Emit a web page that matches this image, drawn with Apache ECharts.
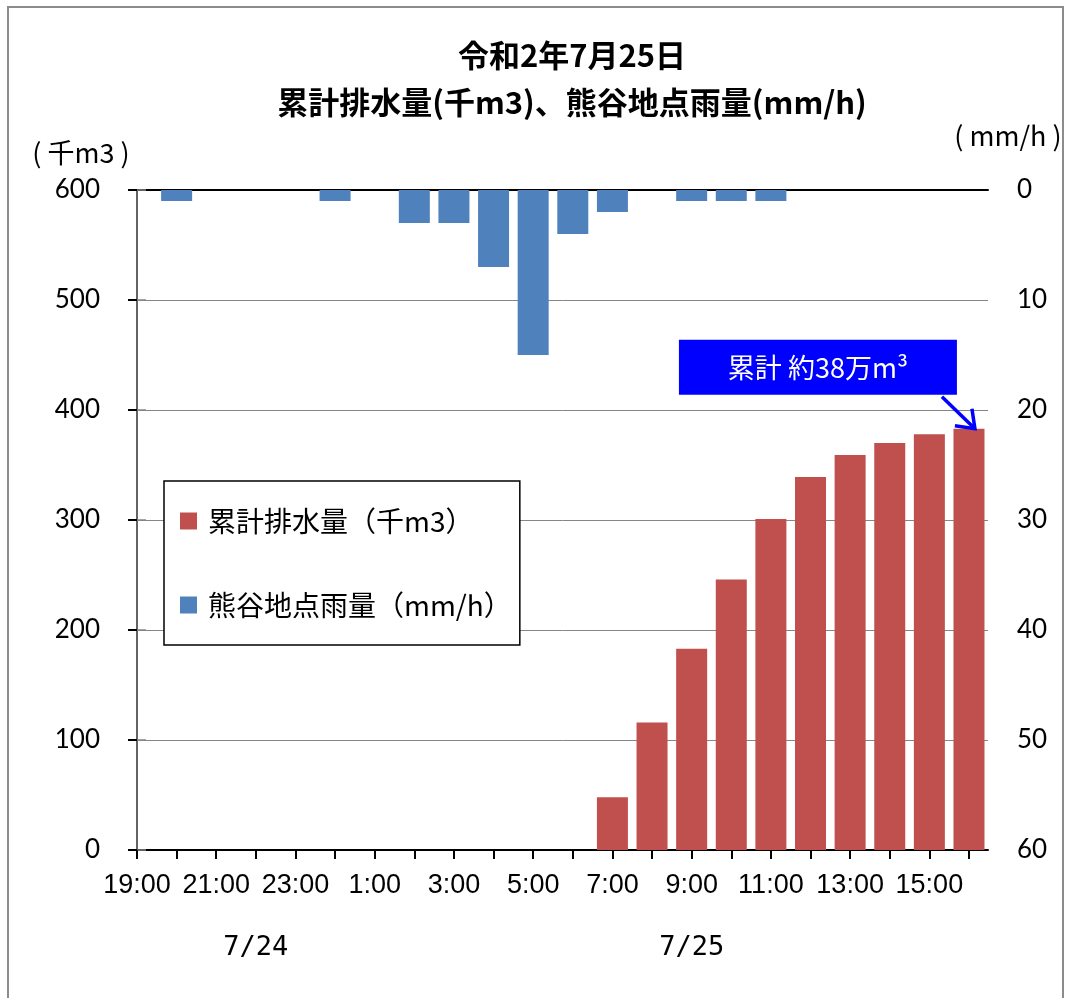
<!DOCTYPE html>
<html>
<head>
<meta charset="utf-8">
<script src="https://cdn.jsdelivr.net/npm/echarts@6/dist/echarts.min.js"></script>
<style>
  html, body { margin: 0; padding: 0; background: #fff; }
  #chart { width: 1068px; height: 998px; }
</style>
</head>
<body>
<div id="chart"></div>
<script>
// Hourly time slots from 7/24 19:00 to 7/25 16:00
const hours = ['19:00','20:00','21:00','22:00','23:00','0:00','1:00','2:00','3:00','4:00','5:00',
               '6:00','7:00','8:00','9:00','10:00','11:00','12:00','13:00','14:00','15:00','16:00'];
// Cumulative drainage (thousand m3)
const drainage = [0,0,0,0,0,0,0,0,0,0,0,0,48,116,183,246,301,339,359,370,378,383];
// Hourly rainfall at Kumagaya (mm/h)
const rainfall = [0,1,0,0,0,1,0,3,3,7,15,4,2,0,1,1,1,0,0,0,0,0];
// Date captions under the time axis
const dateLabels = [{ hour: '22:00', text: '7/24' }, { hour: '9:00', text: '7/25' }];
const seriesNames = ['累計排水量（千m3）', '熊谷地点雨量（mm/h）'];
const titleLines = ['令和2年7月25日', '累計排水量(千m3)、熊谷地点雨量(mm/h)'];
const unitLeft = '( 千m3 )';
const unitRight = '( mm/h )';
const calloutText = '累計 約38万m³';

const CJK = '"Noto Sans CJK JP", sans-serif';
const X_MAX = 21.48;

const chart = echarts.init(document.getElementById('chart'), null, { renderer: 'canvas' });

const hourIdx = hours.map((h, i) => i);
const evenIdx = hourIdx.filter(i => i % 2 === 0);

chart.setOption({
  animation: false,
  backgroundColor: '#fff',
  title: {
    text: titleLines.join('\n'),
    left: 567,
    top: 27,
    textAlign: 'center',
    textStyle: { fontFamily: CJK, fontWeight: 'bold', fontSize: 31, lineHeight: 47, color: '#000' }
  },
  legend: {
    data: seriesNames,
    orient: 'vertical',
    left: 164,
    top: 481,
    padding: [26, 8, 26, 16],
    itemGap: 56,
    itemWidth: 17,
    itemHeight: 17,
    icon: 'rect',
    borderColor: '#000',
    borderWidth: 1.5,
    backgroundColor: '#fff',
    textStyle: { fontFamily: CJK, fontSize: 28, lineHeight: 28, color: '#000', padding: [0, 0, 0, 6] }
  },
  grid: { left: 137, right: 80, top: 190, bottom: 148 },
  xAxis: [
    {
      type: 'value', min: 0, max: X_MAX, position: 'bottom',
      axisLine: { lineStyle: { color: '#000', width: 2 } },
      axisTick: { show: true, customValues: hourIdx, length: 9, lineStyle: { color: '#000', width: 2 } },
      axisLabel: {
        customValues: evenIdx,
        formatter: v => hours[v] || '',
        fontFamily: '"Liberation Sans", Arial, sans-serif', fontSize: 27, color: '#000', margin: 22
      },
      splitLine: { show: false }
    },
    {
      type: 'value', min: 0, max: X_MAX, position: 'top',
      axisLine: { show: true, lineStyle: { color: '#000', width: 2 } },
      axisTick: { show: false }, axisLabel: { show: false }, splitLine: { show: false }
    }
  ],
  yAxis: [
    {
      type: 'value', min: 0, max: 600, interval: 100, position: 'left',
      axisLine: { show: true, lineStyle: { color: '#000', width: 2 } },
      axisTick: { show: true, length: 9, lineStyle: { color: '#000', width: 2 } },
      axisLabel: { fontFamily: 'Lato, "Open Sans", sans-serif', fontSize: 26, color: '#000', margin: 37 },
      splitLine: { show: true, lineStyle: { color: '#868686', width: 1 } }
    },
    {
      type: 'value', min: 0, max: 60, interval: 10, inverse: true, position: 'right',
      axisLine: { show: true, lineStyle: { color: '#868686', width: 1.5 } },
      axisTick: { show: true, length: 9, lineStyle: { color: '#868686', width: 1.5 } },
      axisLabel: { fontFamily: 'Lato, "Open Sans", sans-serif', fontSize: 26, color: '#000', margin: 29 },
      splitLine: { show: false }
    }
  ],
  series: [
    {
      name: seriesNames[0], type: 'bar', xAxisIndex: 0, yAxisIndex: 0,
      barWidth: 31, barGap: '-100%',
      itemStyle: { color: '#C0504D' },
      data: drainage.map((v, i) => [i, v])
    },
    {
      name: seriesNames[1], type: 'bar', xAxisIndex: 0, yAxisIndex: 1,
      barWidth: 31, barGap: '-100%',
      itemStyle: { color: '#4F81BD' },
      data: rainfall.map((v, i) => [i, v])
    }
  ]
});

// Overlay: frame, axis unit captions, date captions and the total callout
const toPx = (x, y) => chart.convertToPixel({ xAxisIndex: 0, yAxisIndex: 0 }, [x, y]);
const graphics = [
  { type: 'rect', silent: true, z: 100,
    shape: { x: 8, y: 7, width: 1055, height: 1100 },
    style: { fill: 'none', stroke: '#8c8c8c', lineWidth: 2 } },
  { type: 'text', silent: true,
    style: { text: unitLeft, x: 81, y: 153, align: 'center', verticalAlign: 'middle',
             fill: '#000', fontFamily: CJK, fontSize: 27 } },
  { type: 'text', silent: true,
    style: { text: unitRight, x: 1008, y: 136, align: 'center', verticalAlign: 'middle',
             fill: '#000', fontFamily: CJK, fontSize: 27 } }
];
dateLabels.forEach(d => {
  const p = toPx(hours.indexOf(d.hour), 0);
  graphics.push({ type: 'text', silent: true,
    style: { text: d.text, x: p[0], y: p[1] + 98, align: 'center', verticalAlign: 'middle',
             fill: '#000', fontFamily: '"DejaVu Sans Mono", monospace', fontSize: 27 } });
});
const last = hours.length - 1;
const tip = toPx(last + 0.15, drainage[last]);
graphics.push(
  { type: 'rect', silent: true, z: 50,
    shape: { x: tip[0] - 296, y: tip[1] - 89, width: 278, height: 55 },
    style: { fill: '#0000FF' } },
  { type: 'text', silent: true, z: 51,
    style: { text: calloutText, x: tip[0] - 157, y: tip[1] - 61, align: 'center', verticalAlign: 'middle',
             fill: '#fff', fontFamily: CJK, fontSize: 27 } },
  { type: 'line', silent: true, z: 51,
    shape: { x1: tip[0] - 33, y1: tip[1] - 32, x2: tip[0], y2: tip[1] },
    style: { stroke: '#0000FF', lineWidth: 3.5 } },
  { type: 'polyline', silent: true, z: 51,
    shape: { points: [[tip[0] - 20, tip[1] - 3], [tip[0], tip[1]], [tip[0] - 3, tip[1] - 20]] },
    style: { fill: 'none', stroke: '#0000FF', lineWidth: 3.5 } }
);
chart.setOption({ graphic: graphics });
</script>
</body>
</html>
